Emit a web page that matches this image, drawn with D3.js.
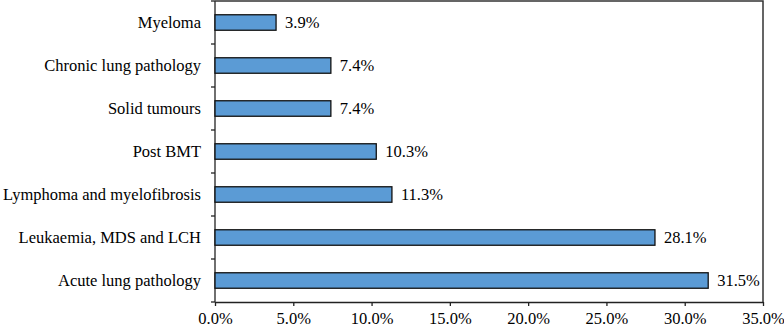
<!DOCTYPE html>
<html>
<head>
<meta charset="utf-8">
<script src="https://cdn.jsdelivr.net/npm/d3@7"></script>
<style>
  body { margin: 0; background: #fff; overflow: hidden; }
</style>
</head>
<body>
<div id="chart"></div>
<script>
// data
var categories = ["Myeloma", "Chronic lung pathology", "Solid tumours", "Post BMT",
  "Lymphoma and myelofibrosis", "Leukaemia, MDS and LCH", "Acute lung pathology"];
var values = [3.9, 7.4, 7.4, 10.3, 11.3, 28.1, 31.5];
var xTicks = [0, 5, 10, 15, 20, 25, 30, 35];

var FONT = "'Liberation Serif', 'Times New Roman', serif";
var FS = "16.5px";

// layout
var svgWidth = 784;
var svgHeight = 328;
var margin = { top: 1, right: 21, bottom: 26, left: 215 };
var plotW = svgWidth - margin.left - margin.right;
var plotH = svgHeight - margin.top - margin.bottom;

var svg = d3.select("#chart").append("svg")
  .attr("width", svgWidth)
  .attr("height", svgHeight)
  .style("display", "block");

var chart = svg.append("g")
  .attr("transform", `translate(${margin.left}, ${margin.top})`);

var x = d3.scaleLinear().domain([0, 35]).range([0, plotW]);
var y = d3.scaleBand().domain(categories).range([0, plotH]).paddingInner(0.64).paddingOuter(0.32);

// plot frame: top and right edges
svg.append("path")
  .attr("d", `M${margin.left},${margin.top}H${margin.left + plotW}V${margin.top + plotH}`)
  .attr("fill", "none")
  .attr("stroke", "#333")
  .attr("stroke-width", 1.5);

// left axis line
chart.append("line")
  .attr("x1", 0).attr("x2", 0).attr("y1", 0).attr("y2", plotH)
  .attr("stroke", "#222").attr("stroke-width", 1.3);

// bars
chart.selectAll(".bar").data(values).enter().append("rect")
  .attr("class", "bar")
  .attr("x", x(0))
  .attr("y", (d, i) => y(categories[i]))
  .attr("width", d => x(d))
  .attr("height", y.bandwidth())
  .attr("fill", "#5b9bd5")
  .attr("stroke", "#111")
  .attr("stroke-width", 1.3);

// value labels
chart.selectAll(".val").data(values).enter().append("text")
  .attr("class", "val")
  .attr("x", d => x(d) + 9)
  .attr("y", (d, i) => y(categories[i]) + y.bandwidth() / 2)
  .attr("dy", "0.35em")
  .attr("font-family", FONT)
  .attr("font-size", FS)
  .text(d => d.toFixed(1) + "%");

// x axis
var bottomAxis = d3.axisBottom(x).tickValues(xTicks)
  .tickFormat(d => d.toFixed(1) + "%").tickSize(4).tickSizeOuter(0);
var xAxis = chart.append("g")
  .attr("transform", `translate(0, ${plotH})`)
  .call(bottomAxis)
  .attr("font-family", FONT)
  .attr("font-size", FS);
xAxis.selectAll("text").attr("dy", "0.9em").attr("fill", "#000");
xAxis.selectAll("path, line").attr("stroke", "#222").attr("stroke-width", 1.3);

// y axis: ticks at category boundaries
var leftAxis = chart.append("g");
leftAxis.selectAll(".bt").data(d3.range(categories.length + 1)).enter().append("line")
  .attr("x1", -4).attr("x2", 0)
  .attr("y1", i => i * plotH / categories.length)
  .attr("y2", i => i * plotH / categories.length)
  .attr("stroke", "#222").attr("stroke-width", 1.3);
leftAxis.selectAll(".lab").data(categories).enter().append("text")
  .attr("x", -14)
  .attr("y", d => y(d) + y.bandwidth() / 2)
  .attr("dy", "0.35em")
  .attr("text-anchor", "end")
  .attr("font-family", FONT)
  .attr("font-size", FS)
  .text(d => d);
</script>
</body>
</html>
